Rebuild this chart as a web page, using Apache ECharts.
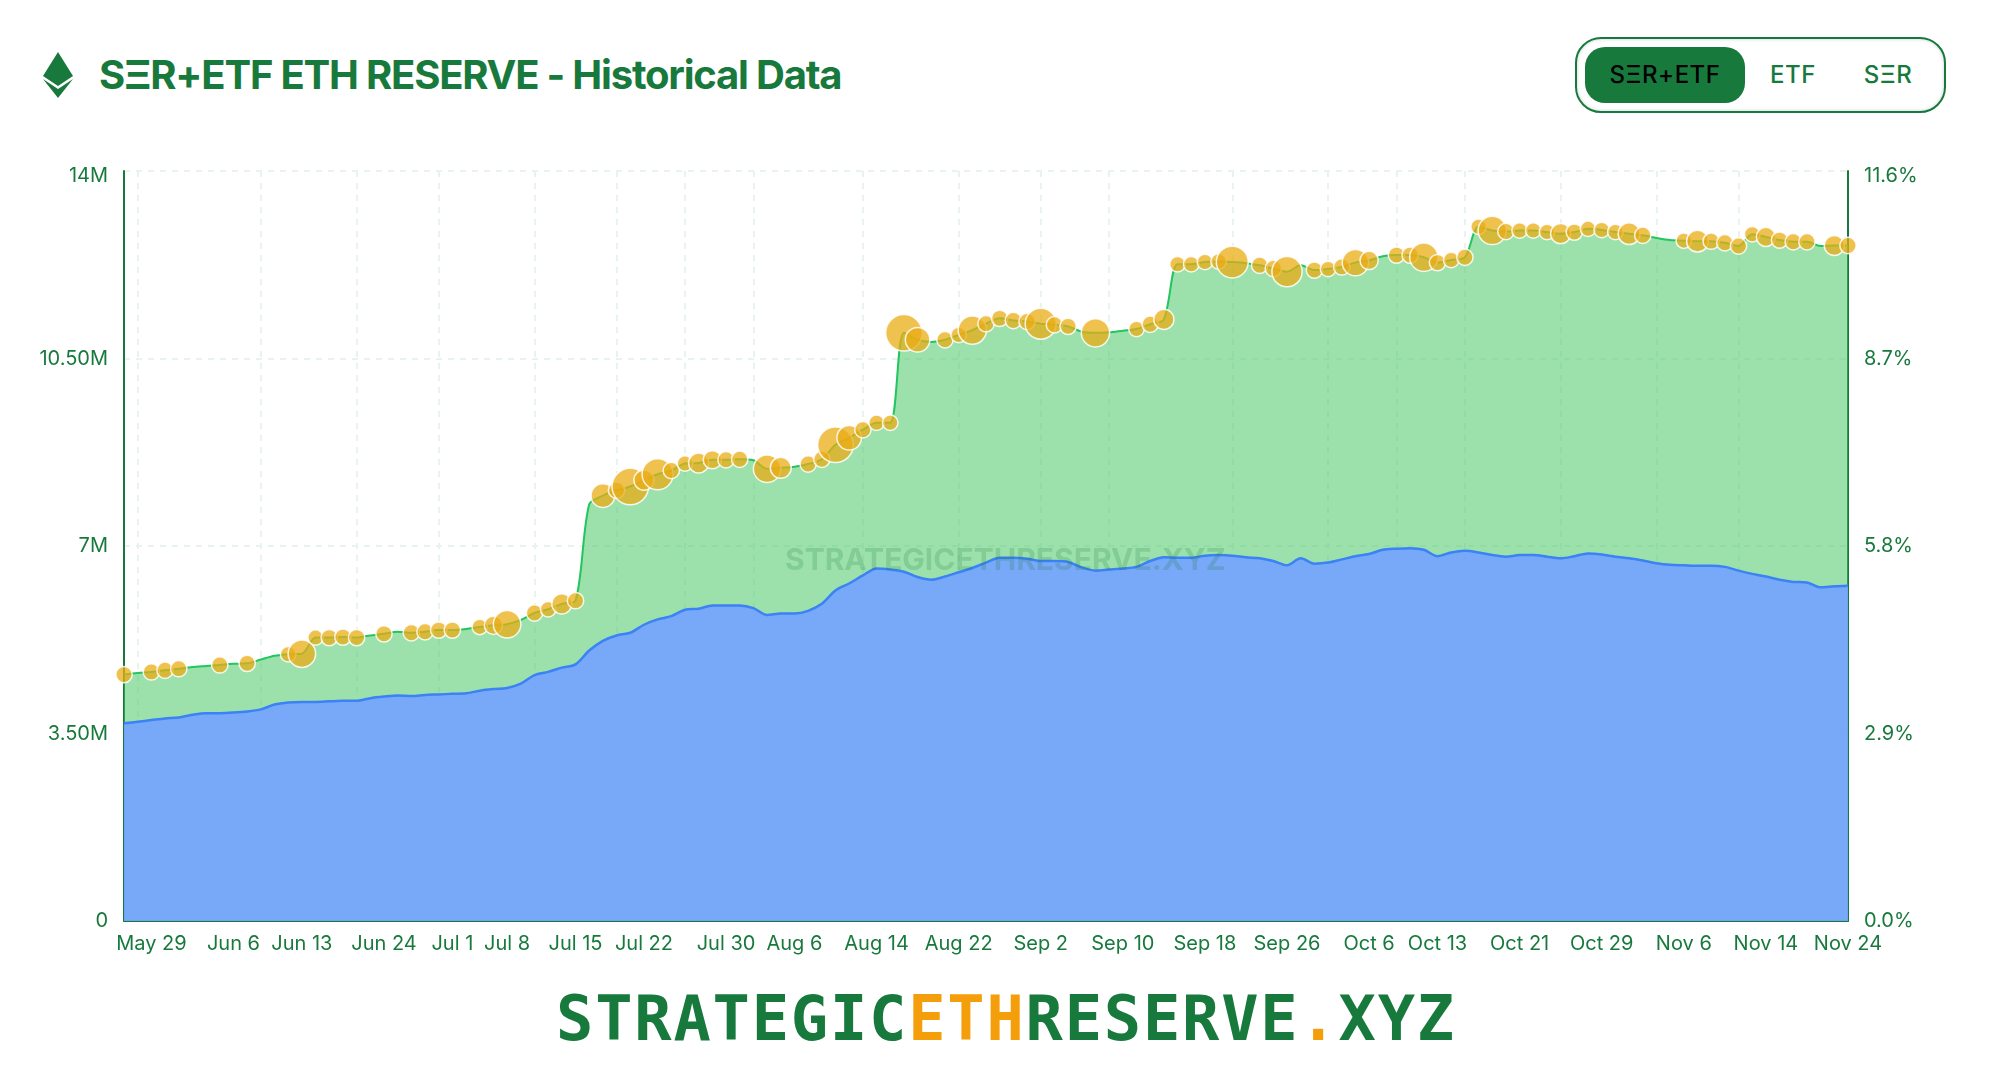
<!DOCTYPE html>
<html>
<head>
<meta charset="utf-8">
<title>SΞR+ETF ETH RESERVE</title>
<script src="https://cdn.jsdelivr.net/npm/echarts@6/dist/echarts.min.js"></script>
<style>
html, body { margin: 0; padding: 0; background: #fff; }
body { width: 2016px; height: 1076px; position: relative; overflow: hidden; font-family: Inter, sans-serif; color: #18793d; }
#chart-reserve { position: absolute; left: 0; top: 0; width: 2016px; height: 1076px; }
#eth-icon { position: absolute; left: 40px; top: 50px; }
#title { position: absolute; left: 99px; top: 50px; line-height: 50px; font-size: 40px; font-weight: 700; letter-spacing: -1.2px; white-space: nowrap; }
#toggle { position: absolute; left: 1575px; top: 37px; width: 371px; height: 76px; box-sizing: border-box; border: 2px solid #18793d; border-radius: 26px; box-shadow: inset 0 0 3px 1px #dfe3e8; }
#toggle span { position: absolute; top: 8px; height: 56px; line-height: 56px; text-align: center; font-size: 24px; font-weight: 500; letter-spacing: 0.5px; }
#toggle .on { left: 8px; width: 160px; background: #18793d; color: #000; border-radius: 20px; }
#logo { position: absolute; left: 556px; top: 979px; line-height: 80px; font-family: "DejaVu Sans Mono", monospace; font-weight: 700; font-size: 62px; letter-spacing: 1.8px; white-space: nowrap; }
#logo b { color: #f59e0b; font-weight: 700; }
</style>
</head>
<body>
<svg id="eth-icon" width="36" height="50" viewBox="0 0 36 50">
	<polygon points="18,2 3,26 18,36 33,26" fill="#18793d"/>
	<polygon points="3,29 18,39 33,29 18,48" fill="#18793d"/>
</svg>
<div id="title">SΞR+ETF ETH RESERVE - Historical Data</div>
<div id="toggle">
	<span class="on">SΞR+ETF</span>
	<span style="left:171px;width:90px">ETF</span>
	<span style="left:266px;width:90px">SΞR</span>
</div>
<div id="chart-reserve"></div>
<div id="logo">STRATEGIC<b>ETH</b>RESERVE<b>.</b>XYZ</div>
<script>
// total reserve (SER + ETF), millions of ETH, one value per trading day
var totalReserve = [
	4.60, 4.63, 4.65, 4.68, 4.71, 4.74, 4.76, 4.78, 4.80, 4.81,
	4.88, 4.95, 4.98, 4.99, 5.29, 5.29, 5.30, 5.29, 5.33, 5.36,
	5.40, 5.38, 5.40, 5.43, 5.43, 5.45, 5.49, 5.52, 5.54, 5.62,
	5.75, 5.82, 5.92, 5.98, 7.78, 7.94, 8.04, 8.11, 8.23, 8.34,
	8.41, 8.54, 8.55, 8.61, 8.61, 8.62, 8.60, 8.44, 8.46, 8.48,
	8.53, 8.62, 8.89, 9.02, 9.17, 9.30, 9.30, 10.98, 10.85, 10.81,
	10.85, 10.94, 11.03, 11.15, 11.25, 11.21, 11.19, 11.15, 11.13, 11.10,
	11.00, 10.98, 10.99, 11.02, 11.05, 11.14, 11.23, 12.26, 12.26, 12.30,
	12.31, 12.30, 12.28, 12.24, 12.18, 12.12, 12.24, 12.15, 12.17, 12.21,
	12.29, 12.33, 12.41, 12.43, 12.43, 12.39, 12.29, 12.34, 12.39, 12.96,
	12.89, 12.87, 12.89, 12.89, 12.86, 12.83, 12.86, 12.92, 12.90, 12.86,
	12.83, 12.80, 12.75, 12.71, 12.70, 12.69, 12.69, 12.66, 12.60, 12.82,
	12.77, 12.71, 12.68, 12.68, 12.60, 12.61, 12.61
];
// ETF part of the reserve, millions of ETH
var etfReserve = [
	3.69, 3.72, 3.75, 3.78, 3.80, 3.85, 3.88, 3.88, 3.89, 3.91,
	3.95, 4.04, 4.08, 4.09, 4.09, 4.10, 4.11, 4.11, 4.16, 4.19,
	4.21, 4.20, 4.22, 4.23, 4.24, 4.25, 4.30, 4.33, 4.35, 4.43,
	4.59, 4.65, 4.73, 4.79, 5.05, 5.23, 5.33, 5.38, 5.53, 5.63,
	5.69, 5.81, 5.83, 5.89, 5.89, 5.89, 5.84, 5.71, 5.74, 5.74,
	5.79, 5.92, 6.17, 6.30, 6.45, 6.58, 6.56, 6.52, 6.42, 6.37,
	6.43, 6.51, 6.59, 6.69, 6.78, 6.78, 6.76, 6.72, 6.72, 6.70,
	6.60, 6.54, 6.56, 6.58, 6.61, 6.72, 6.79, 6.78, 6.78, 6.82,
	6.83, 6.82, 6.79, 6.77, 6.72, 6.64, 6.77, 6.67, 6.69, 6.75,
	6.81, 6.85, 6.93, 6.95, 6.96, 6.93, 6.81, 6.88, 6.91, 6.88,
	6.83, 6.80, 6.83, 6.83, 6.80, 6.77, 6.81, 6.86, 6.84, 6.80,
	6.77, 6.73, 6.68, 6.65, 6.64, 6.63, 6.63, 6.61, 6.54, 6.48,
	6.43, 6.37, 6.33, 6.32, 6.23, 6.25, 6.26
];
// days with a purchase and how large it was (0-100)
var buyDays = [
	0, 2, 3, 4, 7, 9, 12, 13, 14, 15, 16, 17, 19, 21, 22, 23, 24, 26, 27, 28,
	30, 31, 32, 33, 35, 36, 37, 38, 39, 40, 41, 42, 43, 44, 45, 47, 48, 50, 51, 52,
	53, 54, 55, 56, 57, 58, 60, 61, 62, 63, 64, 65, 66, 67, 68, 69, 71, 74, 75,
	76, 77, 78, 79, 80, 81, 83, 84, 85, 87, 88, 89, 90, 91, 93, 94, 95, 96, 97, 98,
	99, 100, 101, 102, 103, 104, 105, 106, 107, 108, 109, 110, 111, 114, 115, 116, 117, 118, 119, 120,
	121, 122, 123, 125, 126
];
var buySize = [
	4, 4, 4, 4, 4, 4, 0, 57, 0, 4, 4, 4, 4, 4, 4, 4, 4, 0, 13, 57,
	4, 0, 22, 4, 39, 4, 100, 22, 74, 4, 0, 22, 13, 4, 4, 57, 26, 4, 4, 96,
	43, 4, 0, 0, 100, 43, 4, 0, 61, 4, 4, 4, 4, 74, 4, 4, 61, 0, 4,
	22, 0, 0, 0, 0, 78, 4, 4, 70, 4, 0, 4, 52, 13, 4, 4, 61, 4, 0, 4,
	0, 61, 4, 0, 0, 0, 22, 4, 0, 0, 0, 30, 4, 0, 30, 4, 4, 4, 0, 17,
	4, 4, 4, 22, 4
];
// tick labels and where they sit on the day axis
var labelDays = [2, 8, 13, 19, 24, 28, 33, 38, 44, 49, 55, 61, 67, 73, 79, 85, 91, 96, 102, 108, 114, 120, 126];
var labelTexts = [
	'May 29', 'Jun 6', 'Jun 13', 'Jun 24', 'Jul 1', 'Jul 8', 'Jul 15', 'Jul 22', 'Jul 30', 'Aug 6', 'Aug 14', 'Aug 22',
	'Sep 2', 'Sep 10', 'Sep 18', 'Sep 26', 'Oct 6', 'Oct 13', 'Oct 21', 'Oct 29', 'Nov 6', 'Nov 14', 'Nov 24'
];
var gridDays = [1, 10, 17, 23, 30, 36, 41, 46, 54, 61, 67, 72, 81, 88, 93, 98, 105, 112, 118];

var GREEN = '#18793d';
var gridLine = { show: true, lineStyle: { color: '#e8f3ef', width: 2, type: [6, 6] } };

var days = [];
for (var i = 0; i < totalReserve.length; i++) {
	days.push(String(i));
}
var bubbles = [];
for (var j = 0; j < buyDays.length; j++) {
	bubbles.push([ buyDays[j], totalReserve[buyDays[j]], buySize[j] ]);
}

var reserve = echarts.init(document.getElementById('chart-reserve'));
reserve.setOption({
	animation: false,
	textStyle: { fontFamily: 'Inter' },
	grid: { left: 124, right: 168, top: 171, bottom: 155 },
	graphic: [ {
		type: 'text',
		z: 100,
		left: 785,
		top: 546,
		style: {
			text: 'STRATEGICETHRESERVE.XYZ',
			font: '700 30px Inter',
			fill: 'rgba(24,121,61,0.2)'
		}
	} ],
	xAxis: {
		type: 'category',
		boundaryGap: false,
		data: days,
		axisLine: { lineStyle: { color: GREEN, width: 2 } },
		axisTick: { show: false },
		axisLabel: {
			color: GREEN,
			fontSize: 20,
			margin: 13,
			interval: function(idx) {
				return labelDays.indexOf(idx) >= 0;
			},
			formatter: function(val) {
				return labelTexts[labelDays.indexOf(Number(val))];
			}
		},
		splitLine: {
			show: true,
			lineStyle: gridLine.lineStyle,
			interval: function(idx) {
				return gridDays.indexOf(idx) >= 0;
			}
		}
	},
	yAxis: [ {
		type: 'value',
		min: 0,
		max: 14,
		interval: 3.5,
		axisLine: { show: true, lineStyle: { color: GREEN, width: 2 } },
		axisTick: { show: false },
		axisLabel: {
			color: GREEN,
			fontSize: 20,
			margin: 16,
			formatter: function(v) {
				if (v === 0) return '0';
				if (v === 14) return '{top|14M}';
				return (v % 1 === 0 ? v : v.toFixed(2)) + 'M';
			},
			rich: { top: { fontSize: 20, color: GREEN, padding: [10, 0, 0, 0] } }
		},
		splitLine: gridLine
	}, {
		type: 'value',
		position: 'right',
		min: 0,
		max: 11.6,
		interval: 2.9,
		axisLine: { show: true, lineStyle: { color: GREEN, width: 2 } },
		axisTick: { show: false },
		axisLabel: {
			color: GREEN,
			fontSize: 20,
			margin: 16,
			formatter: function(v) {
				if (v === 11.6) return '{top|11.6%}';
				return v.toFixed(1) + '%';
			},
			rich: { top: { fontSize: 20, color: GREEN, padding: [10, 0, 0, 0] } }
		},
		splitLine: { show: false }
	} ],
	series: [ {
		name: 'SER+ETF',
		type: 'line',
		data: totalReserve,
		showSymbol: false,
		smooth: 0.3,
		lineStyle: { color: '#22c55e', width: 2 },
		areaStyle: { color: 'rgba(57,195,89,0.5)', opacity: 1 }
	}, {
		name: 'ETF',
		type: 'line',
		data: etfReserve,
		showSymbol: false,
		smooth: 0.3,
		lineStyle: { color: '#3b82f6', width: 2.5 },
		areaStyle: { color: 'rgba(117,163,255,0.92)', opacity: 1 }
	}, {
		name: 'Purchases',
		type: 'scatter',
		data: bubbles,
		clip: false,
		z: 5,
		symbolSize: function(val) {
			return 15.5 + val[2] * 0.21;
		},
		itemStyle: { color: 'rgba(234,172,20,0.75)', opacity: 1, borderColor: 'rgba(255,255,255,0.85)', borderWidth: 1.5 }
	} ]
});
</script>
</body>
</html>
